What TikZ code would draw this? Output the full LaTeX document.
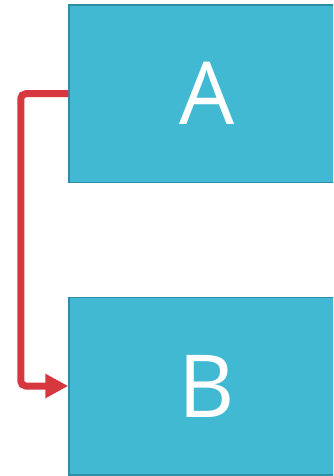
\documentclass[tikz,border=0pt]{standalone}
\usepackage{fontspec}
\setmainfont{Open Sans}
\usetikzlibrary{arrows.meta}
\definecolor{boxfill}{HTML}{41B9D3}
\definecolor{boxline}{HTML}{2F8EA3}
\definecolor{linkred}{HTML}{D7383F}
\begin{document}
\begin{tikzpicture}[x=1pt,y=-1pt,
  block/.style={draw=boxline, fill=boxfill, line width=1.5pt, inner sep=0pt,
    minimum width=276pt, minimum height=177.5pt, text=white,
    font=\fontsize{87}{87}\selectfont},
  link/.style={draw=linkred, line width=7pt, rounded corners=5pt,
    -{Triangle[length=23pt,width=23pt]}}]
  \useasboundingbox (0,0) rectangle (333,476);
  \clip (0,0) rectangle (333,476);
  \node[block] (A) at (207,93.75) {A};
  \node[block] (B) at (207,386) {B};
  \draw[link] (A.west) -- ++(-47.5,0) |- (B.west);
\end{tikzpicture}
\end{document}
